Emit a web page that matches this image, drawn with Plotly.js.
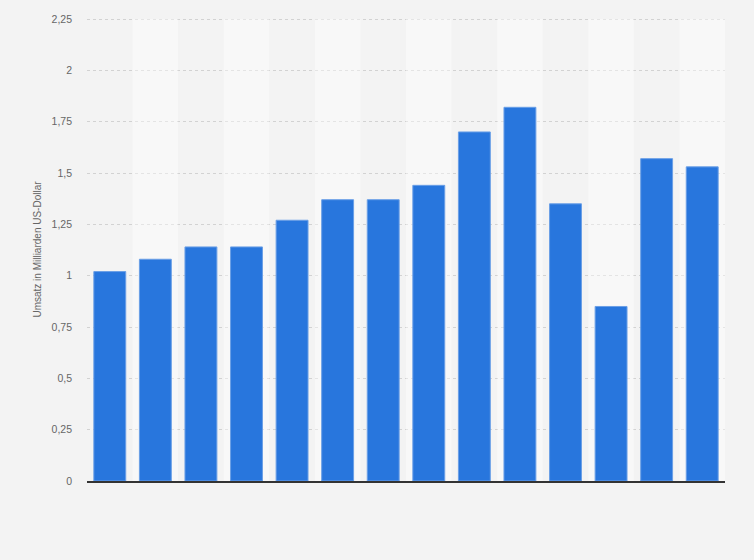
<!DOCTYPE html>
<html>
<head>
<meta charset="utf-8">
<script src="https://cdn.plot.ly/plotly-3.0.1.min.js"></script>
<style>
  html, body { margin: 0; padding: 0; background: #f3f3f3; }
  #chart { width: 754px; height: 560px; }
</style>
</head>
<body>
<div id="chart"></div>
<script>
// Umsatz je Jahr (Kategorien ohne Beschriftung im Original)
const years = ["2008", "2009", "2010", "2011", "2012", "2013", "2014",
  "2015", "2016", "2017", "2018", "2019", "2020", "2021"];
const umsatz = [1.02, 1.08, 1.14, 1.14, 1.27, 1.37, 1.37,
  1.44, 1.70, 1.82, 1.35, 0.85, 1.57, 1.53];
const yTicks = [0, 0.25, 0.5, 0.75, 1, 1.25, 1.5, 1.75, 2, 2.25];
const yTickText = ["0", "0,25", "0,5", "0,75", "1", "1,25", "1,5", "1,75", "2", "2,25"];
const yMax = 2.25;

// helle Streifen hinter jeder zweiten Kategorie
const stripes = {
  x: years,
  y: years.map((_, i) => (i % 2 === 1 ? yMax : null)),
  type: "bar",
  width: 1,
  marker: { color: "rgba(255,255,255,0.4)" },
  hoverinfo: "skip",
  showlegend: false,
};

const bars = {
  x: years,
  y: umsatz,
  type: "bar",
  width: 0.7,
  marker: {
    color: "#2876dd",
    line: { color: "#6a9fe6", width: 1 },
  },
  hovertemplate: "%{y}<extra></extra>",
  showlegend: false,
};

const layout = {
  width: 754,
  height: 560,
  paper_bgcolor: "#f3f3f3",
  plot_bgcolor: "#f3f3f3",
  barmode: "overlay",
  separators: ",.",
  margin: { l: 87, r: 29, t: 18, b: 79 },
  font: { family: "Liberation Sans, Arial, sans-serif", color: "#666" },
  xaxis: {
    type: "category",
    showticklabels: false,
    showgrid: false,
    zeroline: false,
    showline: true,
    linecolor: "#333",
    linewidth: 1.5,
    ticks: "",
  },
  yaxis: {
    range: [0, yMax + 0.005],
    tickvals: yTicks,
    ticktext: yTickText,
    tickfont: { size: 10.5, color: "#666" },
    showgrid: true,
    gridcolor: "#d2d2d2",
    griddash: "dot",
    gridwidth: 1,
    zeroline: false,
    ticks: "",
    ticklabelstandoff: 14,
    title: {
      text: "Umsatz in Milliarden US-Dollar",
      font: { size: 10, color: "#666" },
      standoff: 8,
    },
  },
};

Plotly.newPlot("chart", [stripes, bars], layout, { displayModeBar: false, staticPlot: true });
</script>
</body>
</html>
